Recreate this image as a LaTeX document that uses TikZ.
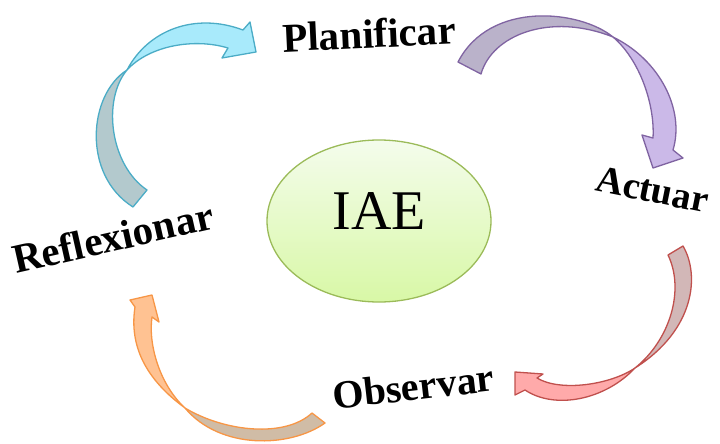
\documentclass[tikz,border=0pt]{standalone}
\usepackage{fontspec}
\setmainfont{Liberation Serif}
\usetikzlibrary{shapes.geometric}
\definecolor{hubline}{HTML}{9BBB59}
\definecolor{hubtop}{HTML}{F4FCEC}
\definecolor{hubbottom}{HTML}{D8F8A6}
\definecolor{cyanline}{HTML}{4BACC6}
\definecolor{cyanhead}{HTML}{A8EAFB}
\definecolor{cyantail}{HTML}{B3C9CD}
\definecolor{purpleline}{HTML}{8064A2}
\definecolor{purplehead}{HTML}{CBB9E8}
\definecolor{purpletail}{HTML}{BAB2CA}
\definecolor{redline}{HTML}{C0504D}
\definecolor{redhead}{HTML}{FFAAAA}
\definecolor{redtail}{HTML}{D2B7B7}
\definecolor{orangeline}{HTML}{F79646}
\definecolor{orangehead}{HTML}{FFC292}
\definecolor{orangetail}{HTML}{D0BCA6}
\tikzset{
  stage/.style={font=\fontsize{#1}{#1}\selectfont\bfseries, anchor=base, inner sep=0pt},
  hub/.style={ellipse, draw=hubline, line width=1.3pt, top color=hubtop, bottom color=hubbottom,
    minimum width=224pt, minimum height=162pt, inner sep=0pt},
  band/.style={draw=#1line, fill=#1tail, line width=1.3pt, line join=round},
  bandhead/.style={draw=#1line, fill=#1head, line width=1.3pt, line join=round}
}
\begin{document}
\begin{tikzpicture}[x=1pt, y=-1pt]
\useasboundingbox (0,0) rectangle (720,444);
\node[hub] (iae) at (379,221) {};
\node[font=\fontsize{56}{56}\selectfont] at ([yshift=10pt]iae.center) {IAE};

\node[stage=41, rotate=2.7] (plan) at (370,48) {Planificar};
\node[stage=38, rotate=-11.4] (act) at (650,202) {Actuar};
\node[stage=40, rotate=6.6] (obs) at (415,400) {Observar};
\node[stage=41, rotate=12.7] (refl) at (116,251) {Reflexionar};

\draw[band=cyan] (133,207) -- (147,190) .. controls (110,165) and (102,100) .. (127,70)
  .. controls (88,95) and (82,175) .. (133,207) -- cycle;
\draw[bandhead=cyan] (127,70) .. controls (148,30) and (195,12) .. (243,30) -- (250,22) -- (256,52)
  -- (222,58) -- (228,48) .. controls (195,38) and (150,45) .. (127,70) -- cycle;

\draw[band=purple] (458,62) -- (481,74) .. controls (492,35) and (550,12) .. (613,37)
  .. controls (580,10) and (490,0) .. (458,62) -- cycle;
\draw[bandhead=purple] (613,37) .. controls (660,60) and (685,110) .. (673,150) -- (683,158) -- (653,168)
  -- (642,135) -- (653,138) .. controls (655,105) and (640,60) .. (613,37) -- cycle;

\draw[band=red] (668,255) -- (683,246) .. controls (700,275) and (695,330) .. (635,368)
  .. controls (670,340) and (685,290) .. (668,255) -- cycle;
\draw[bandhead=red] (635,368) .. controls (605,400) and (555,410) .. (525,390) -- (515,395) -- (515,372)
  -- (543,374) -- (537,378) .. controls (560,392) and (610,385) .. (635,368) -- cycle;

\draw[band=orange] (312,413) -- (325,423) .. controls (290,448) and (220,450) .. (185,408)
  .. controls (225,432) and (285,438) .. (312,413) -- cycle;
\draw[bandhead=orange] (185,408) .. controls (140,375) and (130,340) .. (135,307) -- (130,300) -- (152,295)
  -- (159,322) -- (152,317) .. controls (148,345) and (160,385) .. (185,408) -- cycle;
\end{tikzpicture}
\end{document}
